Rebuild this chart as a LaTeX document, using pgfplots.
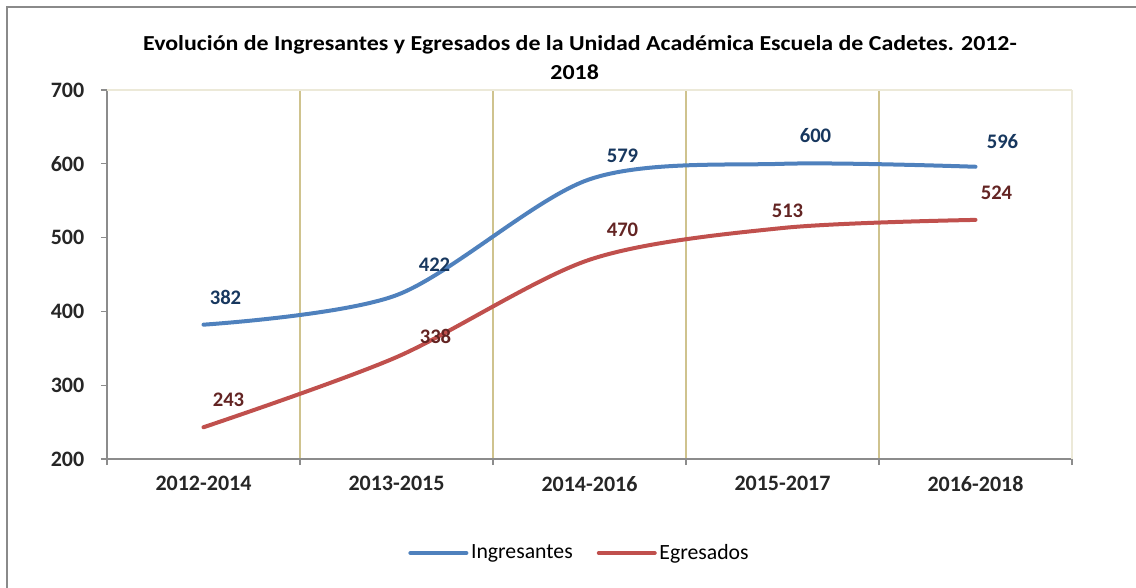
\documentclass[border=0pt]{standalone}
\usepackage{pgfplots}
\pgfplotsset{compat=1.18}
\usepackage{pgfplotstable}
\usepackage{fontspec}
\setmainfont{Carlito}
\definecolor{ingB}{HTML}{4F81BD}
\definecolor{egrR}{HTML}{C0504D}
\definecolor{ingT}{HTML}{17375E}
\definecolor{egrT}{HTML}{632423}
\definecolor{gridK}{HTML}{CFC38E}
\definecolor{gridL}{HTML}{ECE9D8}
\definecolor{axG}{HTML}{8C8C8C}
\definecolor{frameG}{HTML}{8A8A8A}

\pgfplotstableread{
x y dx dy
0 382 16.5 20.25
1 422 28.5 22.5
2 579 24.75 18
3 600 24.75 21
4 596 20.25 18.75
}\ingtable
\pgfplotstableread{
x y dx dy
0 243 18.75 20.25
1 338 29.25 15.75
2 470 24.75 22.5
3 513 3.75 12.75
4 524 15.75 20.25
}\egrtable

\begin{document}
\begin{tikzpicture}
\path[use as bounding box] (0,0) rectangle (852pt,440.25pt);
\draw[frameG, line width=1.5pt] (5.25pt,-2pt) -- (5.25pt,435pt) -- (854pt,435pt);
\node[font=\fontsize{16}{18}\selectfont\bfseries] at (435pt,406.5pt) {\scalebox{1.12}[1]{Evolución de Ingresantes y Egresados de la Unidad Académica Escuela de Cadetes. 2012-}};
\node[font=\fontsize{16}{18}\selectfont\bfseries] at (431pt,386.25pt) {\scalebox{1.12}[1]{2018}};
\begin{axis}[
  at={(80.25pt,96pt)}, anchor=south west,
  scale only axis, width=723.75pt, height=276.75pt,
  xmin=-0.5, xmax=4.5, ymin=200, ymax=700,
  axis x line*=bottom, axis y line*=left,
  axis line style={axG, line width=1pt, -},
  xtick={0,1,2,3,4},
  xticklabels={2012-2014,2013-2015,2014-2016,2015-2017,2016-2018},
  major x tick style={draw=none},
  minor xtick={-0.5,0.5,1.5,2.5,3.5,4.5},
  minor tick length=4.5pt,
  minor x tick style={axG, line width=1pt},
  minor x grid style={gridK, line width=0.9pt},
  xminorgrids=true,
  ytick={200,300,...,700},
  major tick length=4.5pt,
  y tick style={axG, line width=1pt},
  tick align=outside,
  tick pos=left,
  /pgf/number format/assume math mode=true,
  ticklabel style={font=\fontsize{16.5}{18}\selectfont\bfseries, text=black!85},
  xticklabel style={yshift=-5pt},
  yticklabel style={xshift=-9pt},
  legend columns=2,
  legend style={at={(0.49,-0.2547)}, anchor=center, draw=none, fill=none,
    font=\fontsize{16.3}{18}\selectfont, /tikz/every even column/.append style={column sep=16pt}},
  legend image code/.code={\draw[#1, line cap=round] (0pt,0pt) -- (42pt,0pt);},
  clip=false,
]
\draw[gridL, line width=1pt] (axis cs:-0.5,700) -- (axis cs:4.5,700);
\draw[gridL, line width=1.2pt] (axis cs:4.5,200) -- (axis cs:4.5,700);
\addplot[ingB, line width=3pt, line cap=round, smooth, tension=0.5,
  visualization depends on={\thisrow{dx}\as\dx},
  visualization depends on={\thisrow{dy}\as\dy},
  nodes near coords,
  nodes near coords style={anchor=center, xshift=\dx pt, yshift=\dy pt, text=ingT, font=\fontsize{15.5}{18}\selectfont\bfseries}]
  table[x=x, y=y] {\ingtable};
\addlegendentry{Ingresantes}
\addplot[egrR, line width=3pt, line cap=round, smooth, tension=0.5,
  visualization depends on={\thisrow{dx}\as\dx},
  visualization depends on={\thisrow{dy}\as\dy},
  nodes near coords,
  nodes near coords style={anchor=center, xshift=\dx pt, yshift=\dy pt, text=egrT, font=\fontsize{15.5}{18}\selectfont\bfseries}]
  table[x=x, y=y] {\egrtable};
\addlegendentry{Egresados}
\end{axis}
\end{tikzpicture}
\end{document}
